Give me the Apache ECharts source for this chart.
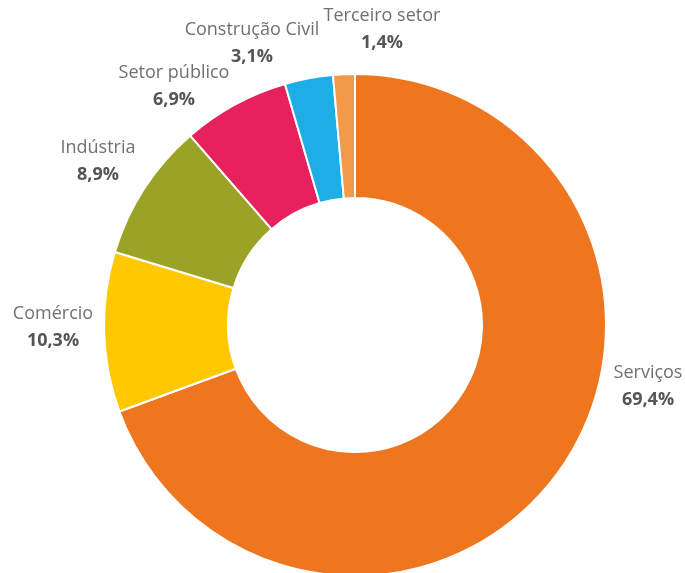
<!DOCTYPE html>
<html>
<head>
<meta charset="utf-8">
<script src="https://cdn.jsdelivr.net/npm/echarts@6/dist/echarts.min.js"></script>
<style>
  html, body { margin: 0; padding: 0; background: #fff; }
  #chart { width: 685px; height: 573px; }
</style>
</head>
<body>
<div id="chart"></div>
<script>
// Sectors and their shares (%)
const sectors = ['Serviços', 'Comércio', 'Indústria', 'Setor público', 'Construção Civil', 'Terceiro setor'];
const shares = [69.4, 10.3, 8.9, 6.9, 3.1, 1.4];
const sectorColors = ['#EE761F', '#FFC800', '#9BA326', '#E6215D', '#1EADE4', '#F39A4A'];

// Where each two-line label block is centred
const labelSpots = [
  [648, 386],
  [53, 327],
  [98, 161],
  [174, 86],
  [252, 43],
  [382, 29]
];

const chart = echarts.init(document.getElementById('chart'));

const fmt = v => v.toFixed(1).replace('.', ',') + '%';

chart.setOption({
  animation: false,
  series: [{
    type: 'pie',
    center: [355, 325],
    radius: [127, 251],
    startAngle: 90,
    clockwise: true,
    avoidLabelOverlap: false,
    itemStyle: { borderColor: '#fff', borderWidth: 2 },
    label: {
      show: true,
      position: 'outside',
      formatter: p => '{n|' + p.name + '}\n{v|' + fmt(p.value) + '}',
      rich: {
        n: { fontFamily: 'Open Sans', fontSize: 18, color: '#707070', lineHeight: 27, align: 'center' },
        v: { fontFamily: 'Open Sans', fontSize: 18, fontWeight: 'bold', color: '#555', lineHeight: 27, align: 'center' }
      }
    },
    labelLine: { show: false },
    labelLayout: p => ({
      x: labelSpots[p.dataIndex][0],
      y: labelSpots[p.dataIndex][1],
      align: 'center',
      verticalAlign: 'middle'
    }),
    data: sectors.map((s, i) => ({
      name: s,
      value: shares[i],
      itemStyle: { color: sectorColors[i] }
    }))
  }]
});
</script>
</body>
</html>
